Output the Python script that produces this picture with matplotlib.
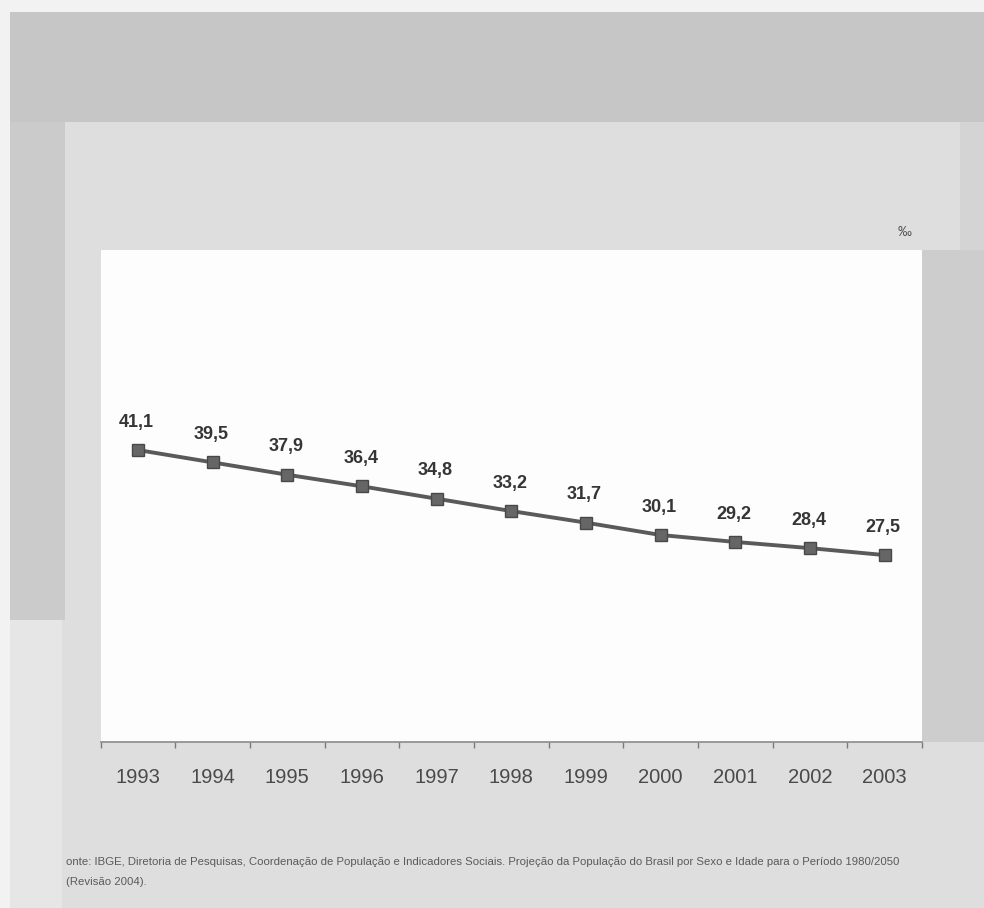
import matplotlib
matplotlib.use("Agg")
import matplotlib.pyplot as plt
from matplotlib.patches import Rectangle

plt.rcParams['font.family'] = ['Liberation Sans', 'DejaVu Sans']

anos = ['1993', '1994', '1995', '1996', '1997', '1998',
        '1999', '2000', '2001', '2002', '2003']
taxa = [41.1, 39.5, 37.9, 36.4, 34.8, 33.2, 31.7, 30.1, 29.2, 28.4, 27.5]
rotulos = ['41,1', '39,5', '37,9', '36,4', '34,8', '33,2',
           '31,7', '30,1', '29,2', '28,4', '27,5']
fonte = ('onte: IBGE, Diretoria de Pesquisas, Coordenação de População e Indicadores Sociais. '
         'Projeção da População do Brasil por Sexo e Idade para o Período 1980/2050')
fonte2 = '(Revisão 2004).'

W, H = 984, 908
fig = plt.figure(figsize=(W / 100, H / 100), dpi=100)
fig.patch.set_facecolor('#dedede')


def caixa(x0, y0, x1, y1, cor):
    # rectangle given in pixels, origin at the top-left corner
    fig.add_artist(Rectangle((x0 / W, 1 - y1 / H), (x1 - x0) / W, (y1 - y0) / H,
                             transform=fig.transFigure, facecolor=cor,
                             edgecolor='none', zorder=0))


caixa(0, 0, W, 12, '#f2f2f2')
caixa(0, 0, 10, H, '#f2f2f2')
caixa(10, 12, W, 122, '#c6c6c6')
caixa(10, 122, 65, 620, '#cbcbcb')
caixa(10, 620, 62, H, '#e6e6e6')
caixa(922, 250, W, 742, '#cdcdcd')
caixa(960, 122, W, 250, '#d4d4d4')

ax = fig.add_axes([100.7 / W, 1 - 742 / H, (922 - 100.7) / W, (742 - 250) / H])
ax.set_facecolor('#fdfdfd')

x = list(range(len(anos)))
ax.plot(x, taxa, color='#5a5a5a', lw=2.8, marker='s', ms=9,
        markerfacecolor='#666666', markeredgecolor='#484848', mew=1, zorder=3)

for xi, v, r in zip(x, taxa, rotulos):
    ax.annotate(r, (xi, v), xytext=(-1, 20), textcoords='offset points',
                ha='center', va='center', fontsize=13, fontweight='bold',
                color='#353535')

ax.set_xlim(-0.5, len(anos) - 0.5)
ax.set_ylim(3.3, 67)

# boundary ticks on the axis line, year labels centred between them
ax.set_xticks([i - 0.5 for i in range(len(anos) + 1)])
ax.set_xticklabels([])
ax.set_xticks(x, minor=True)
ax.set_xticklabels(anos, minor=True, fontsize=14.5, color='#4a4a4a')
ax.tick_params(axis='x', which='major', length=4, width=1, color='#7a7a7a', direction='out')
ax.tick_params(axis='x', which='minor', length=0, pad=19)
ax.set_yticks([])

for s in ['top', 'right', 'left']:
    ax.spines[s].set_visible(False)
ax.spines['bottom'].set_color('#8a8a8a')
ax.spines['bottom'].set_linewidth(1.2)

fig.text(905 / W, 1 - 232 / H, '‰', fontsize=10, color='#555555',
         ha='center', va='center')
fig.text(66 / W, 1 - 862 / H, fonte, fontsize=8.2, color='#5a5a5a',
         ha='left', va='center')
fig.text(66 / W, 1 - 882 / H, fonte2, fontsize=8.2, color='#5a5a5a',
         ha='left', va='center')

fig.savefig('out.png', dpi=100, facecolor=fig.get_facecolor())
